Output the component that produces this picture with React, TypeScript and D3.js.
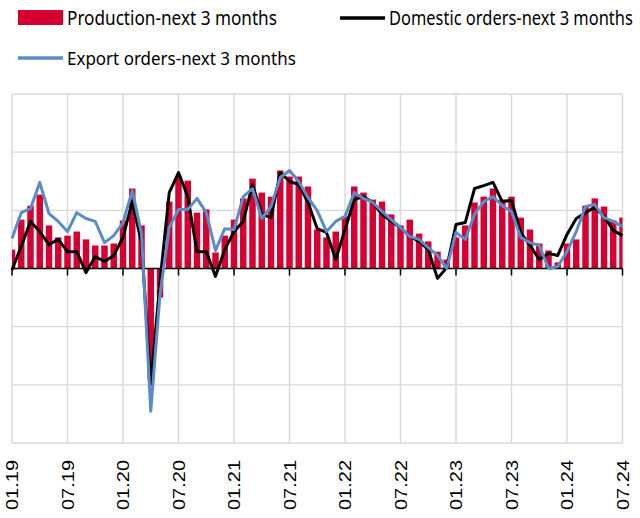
import React, { useRef, useEffect } from 'react';
import * as d3 from 'd3';

// monthly, 01.2019 .. 07.2024 (67 months)
const tickLabels = ['01.19', '07.19', '01.20', '07.20', '01.21', '07.21', '01.22', '07.22', '01.23', '07.23', '01.24', '07.24'];

const production = [
  6.5, 16.8, 21.6, 25.4, 14.8, 10.7, 11.3, 12.7, 10.0, 7.9, 7.9, 8.6,
  16.5, 27.5, 14.8, -38.1, -10.0, 23.0, 31.6, 30.2, 19.2, 20.3, 5.5, 11.3,
  16.8, 24.1, 30.9, 26.1, 24.7, 33.7, 31.6, 31.6, 28.2, 13.4, 10.7, 12.7,
  17.9, 28.2, 26.1, 23.7, 23.0, 18.6, 14.8, 16.8, 12.0, 9.3, 5.8, 3.1,
  10.7, 14.8, 22.7, 24.7, 27.5, 23.7, 24.7, 17.5, 13.4, 8.6, 6.2, 2.1,
  8.6, 10.0, 21.6, 24.1, 21.3, 16.5, 17.5,
];

const domestic = [
  -0.5, 7.6, 16.2, 12.7, 8.2, 10.0, 5.8, 5.8, -1.4, 4.1, 2.4, 4.5,
  10.7, 23.0, 8.9, -39.9, -4.5, 26.1, 33.0, 24.7, 5.8, 5.8, -2.7, 6.5,
  12.7, 16.2, 28.9, 18.6, 17.5, 33.0, 29.9, 28.9, 22.7, 13.7, 12.4, 3.1,
  13.4, 23.7, 24.7, 22.7, 18.6, 16.2, 14.1, 11.0, 9.3, 6.5, -3.4, 0.3,
  15.1, 15.8, 27.5, 28.5, 29.6, 23.0, 23.4, 12.4, 7.9, 3.1, 5.2, 4.5,
  11.7, 17.2, 19.2, 21.0, 17.9, 13.1, 11.3,
];

const exportOrders = [
  10.3, 19.2, 20.6, 29.6, 18.9, 16.2, 12.7, 19.2, 17.2, 16.2, 8.9, 11.3,
  15.8, 26.8, 12.0, -49.1, -8.9, 14.1, 20.3, 20.3, 24.1, 19.2, 6.2, 13.7,
  13.4, 24.7, 27.5, 17.2, 21.3, 31.3, 33.7, 29.9, 24.4, 19.9, 12.7, 16.2,
  17.9, 26.1, 24.1, 22.7, 19.6, 16.8, 14.1, 11.0, 10.0, 7.2, 4.5, 0.0,
  12.4, 10.0, 18.6, 23.0, 24.7, 21.6, 19.6, 10.7, 8.9, 7.9, 0.0, 0.7,
  5.8, 12.7, 21.3, 22.0, 17.5, 16.2, 14.4,
];

const App = () => {
  const svgRef = useRef<SVGSVGElement>(null);

  useEffect(() => {
    const width = 640;
    const height = 518;
    const margin = { top: 94, right: 17.5, bottom: 75, left: 12 };

    const svg = d3.select(svgRef.current);
    svg.selectAll('*').remove();

    const x = d3.scaleLinear()
      .domain([0, production.length - 1])
      .range([margin.left, width - margin.right]);

    const y = d3.scaleLinear()
      .domain([-60, 60])
      .range([height - margin.bottom, margin.top]);

    const step = x(1) - x(0);
    const barW = step * 0.7;

    svg.append('defs').append('clipPath')
      .attr('id', 'plot-clip')
      .append('rect')
      .attr('x', margin.left)
      .attr('y', margin.top)
      .attr('width', width - margin.left - margin.right)
      .attr('height', height - margin.top - margin.bottom);

    // grid
    const grid = svg.append('g').attr('stroke', '#d9d9d9').attr('stroke-width', 1.4);
    grid.selectAll('line.h')
      .data(d3.range(-60, 61, 20))
      .enter()
      .append('line')
      .attr('x1', margin.left)
      .attr('x2', width - margin.right)
      .attr('y1', (d) => y(d))
      .attr('y2', (d) => y(d));
    grid.selectAll('line.v')
      .data(tickLabels)
      .enter()
      .append('line')
      .attr('x1', (d, i) => x(i * 6))
      .attr('x2', (d, i) => x(i * 6))
      .attr('y1', margin.top)
      .attr('y2', height - margin.bottom);

    // bars
    svg.append('g')
      .attr('clip-path', 'url(#plot-clip)')
      .selectAll('rect')
      .data(production)
      .enter()
      .append('rect')
      .attr('x', (d, i) => x(i) - barW / 2)
      .attr('y', (d) => y(Math.max(0, d)))
      .attr('width', barW)
      .attr('height', (d) => Math.abs(y(d) - y(0)))
      .attr('fill', '#d50032');

    // zero axis with ticks
    svg.append('line')
      .attr('x1', margin.left)
      .attr('x2', width - margin.right)
      .attr('y1', y(0))
      .attr('y2', y(0))
      .attr('stroke', '#000')
      .attr('stroke-width', 1.5);
    svg.append('g')
      .selectAll('line')
      .data(tickLabels)
      .enter()
      .append('line')
      .attr('x1', (d, i) => x(i * 6))
      .attr('x2', (d, i) => x(i * 6))
      .attr('y1', y(0))
      .attr('y2', y(0) + 7)
      .attr('stroke', '#000')
      .attr('stroke-width', 1.5);

    const line = d3.line<number>()
      .x((d, i) => x(i))
      .y((d) => y(d));

    svg.append('path')
      .datum(domestic)
      .attr('d', line)
      .attr('fill', 'none')
      .attr('stroke', '#000')
      .attr('stroke-width', 3)
      .attr('stroke-linejoin', 'round');

    svg.append('path')
      .datum(exportOrders)
      .attr('d', line)
      .attr('fill', 'none')
      .attr('stroke', '#5b8cc8')
      .attr('stroke-width', 3)
      .attr('stroke-linejoin', 'round');

    // x labels, rotated
    svg.append('g')
      .selectAll('text')
      .data(tickLabels)
      .enter()
      .append('text')
      .attr('transform', (d, i) => `translate(${x(i * 6)},460) rotate(-90)`)
      .attr('text-anchor', 'end')
      .attr('dy', '0.36em')
      .attr('font-family', 'Liberation Sans, Arial, sans-serif')
      .attr('font-size', 17)
      .attr('textLength', 50)
      .attr('lengthAdjust', 'spacingAndGlyphs')
      .attr('fill', '#000')
      .text((d) => d);

    // legend: text squeezed horizontally to the reference widths
    const legend = svg.append('g')
      .attr('font-family', 'Noto Sans, sans-serif')
      .attr('font-size', 19)
      .attr('fill', '#000');

    const legendText = (label: string, tx: number, ty: number, w: number) => {
      const t = legend.append('text').text(label);
      const natural = (t.node() as SVGTextElement).getComputedTextLength() || w;
      t.attr('transform', `translate(${tx},${ty}) scale(${w / natural},1)`);
    };

    legend.append('rect')
      .attr('x', 18).attr('y', 10).attr('width', 45).attr('height', 15)
      .attr('fill', '#d50032');
    legendText('Production-next 3 months', 67, 25, 210);

    legend.append('line')
      .attr('x1', 340).attr('x2', 385).attr('y1', 18).attr('y2', 18)
      .attr('stroke', '#000').attr('stroke-width', 3.5);
    legendText('Domestic orders-next 3 months', 389, 25, 244);

    legend.append('line')
      .attr('x1', 18).attr('x2', 63).attr('y1', 58).attr('y2', 58)
      .attr('stroke', '#5b8cc8').attr('stroke-width', 3.5);
    legendText('Export orders-next 3 months', 67, 65, 229);
  }, []);

  return (
    <svg
      ref={svgRef}
      width={640}
      height={518}
      style={{ position: 'absolute', left: 0, top: 0, background: '#fff' }}
    />
  );
};

export default App;
